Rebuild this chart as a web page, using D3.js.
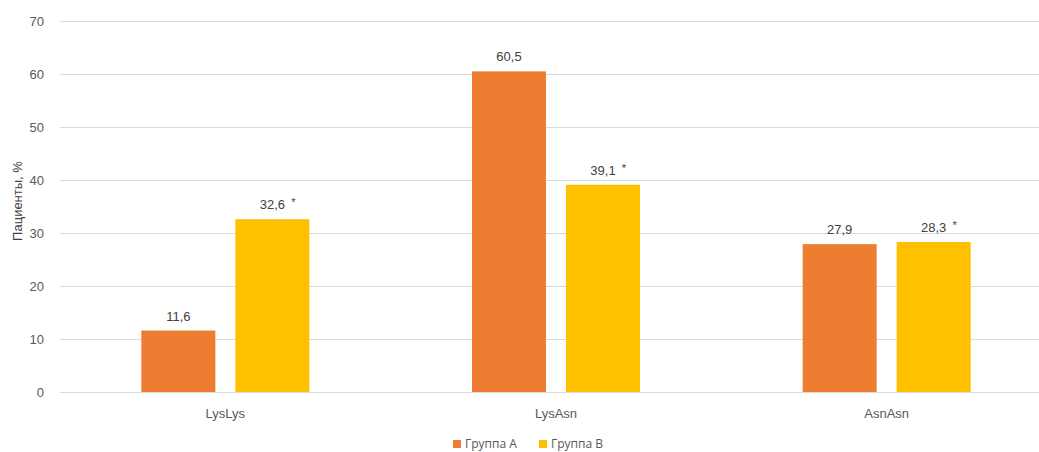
<!DOCTYPE html>
<html>
<head>
<meta charset="utf-8">
<script src="https://cdn.jsdelivr.net/npm/d3@7"></script>
<style>
  html, body { margin: 0; padding: 0; background: #fff; }
  svg { display: block; font-family: "Liberation Sans", Arial, sans-serif; }
</style>
</head>
<body>
<svg id="chart" width="1039" height="452"></svg>
<script>
// Genotype categories and group shares (% of patients)
const categories = ["LysLys", "LysAsn", "AsnAsn"];
const seriesNames = ["Группа А", "Группа В"];
const groupA = [11.6, 60.5, 27.9];
const groupB = [32.6, 39.1, 28.3];
const markB = ["*", "*", "*"];
const yTicks = [0, 10, 20, 30, 40, 50, 60, 70];
const colors = ["#ED7D31", "#FFC000"];

const svg = d3.select("#chart");
const W = 1039, H = 452;
const plot = { left: 60, right: 1052, top: 21, bottom: 392 };

const x = d3.scaleBand().domain(categories).range([plot.left, plot.right]).padding(0);
const y = d3.scaleLinear().domain([0, 70]).range([plot.bottom, plot.top]);
const barW = 74, innerGap = 20;
const pairW = barW * 2 + innerGap;
const sub = d3.scaleBand().domain([0, 1]).range([0, pairW]).paddingInner(innerGap / (barW + innerGap));

// horizontal gridlines
svg.append("g")
  .selectAll("line")
  .data(yTicks)
  .join("line")
  .attr("x1", plot.left).attr("x2", W)
  .attr("y1", d => Math.round(y(d)) + 0.5).attr("y2", d => Math.round(y(d)) + 0.5)
  .attr("stroke", "#D9D9D9").attr("stroke-width", 1);

// y axis labels
const yAxis = d3.axisLeft(y).tickValues(yTicks).tickSize(0).tickPadding(16);
const gy = svg.append("g").attr("transform", `translate(${plot.left},0)`).call(yAxis);
gy.select(".domain").remove();
gy.selectAll("text").attr("font-size", 13).attr("fill", "#595959")
  .attr("font-family", "Liberation Sans, Arial, sans-serif");

// x axis labels
const xAxis = d3.axisBottom(x).tickSize(0).tickPadding(17);
const gx = svg.append("g").attr("transform", `translate(0,${plot.bottom})`).call(xAxis);
gx.select(".domain").remove();
gx.selectAll("text").attr("font-size", 13).attr("fill", "#595959")
  .attr("font-family", "Liberation Sans, Arial, sans-serif");

// bars
const rows = categories.map((c, i) => ({ c, vals: [groupA[i], groupB[i]], mark: markB[i] }));
const groups = svg.append("g").selectAll("g")
  .data(rows)
  .join("g")
  .attr("transform", d => `translate(${x(d.c) + x.bandwidth() / 2 - pairW / 2},0)`);

groups.selectAll("rect")
  .data(d => d.vals.map((v, k) => ({ v, k })))
  .join("rect")
  .attr("x", d => sub(d.k))
  .attr("width", sub.bandwidth())
  .attr("y", d => y(d.v))
  .attr("height", d => y(0) - y(d.v))
  .attr("fill", d => colors[d.k]);

// value labels
groups.selectAll("text.val")
  .data(d => d.vals.map((v, k) => ({ v, k })))
  .join("text")
  .attr("class", "val")
  .attr("x", d => sub(d.k) + sub.bandwidth() / 2)
  .attr("y", d => y(d.v) - 10)
  .attr("text-anchor", "middle")
  .attr("font-size", 13)
  .attr("fill", "#404040")
  .text(d => d.v.toFixed(1).replace(".", ","));

// significance marks next to group B labels
groups.append("text")
  .attr("x", sub(1) + sub.bandwidth() / 2 + 21)
  .attr("y", d => y(d.vals[1]) - 13)
  .attr("text-anchor", "middle")
  .attr("font-size", 11)
  .attr("fill", "#404040")
  .text(d => d.mark);

// y axis title
svg.append("text")
  .attr("transform", `translate(22,201) rotate(-90)`)
  .attr("text-anchor", "middle")
  .attr("font-size", 13)
  .attr("fill", "#404040")
  .text("Пациенты, %");

// legend
const legend = svg.append("g").attr("transform", "translate(453,448)");
const items = legend.selectAll("g").data(seriesNames).join("g")
  .attr("transform", (d, i) => `translate(${i * 86},0)`);
items.append("rect").attr("x", 0).attr("y", -8).attr("width", 8).attr("height", 8)
  .attr("fill", (d, i) => colors[i]);
items.append("text").attr("x", 12).attr("y", 0).attr("font-size", 12)
  .attr("font-family", "Open Sans, sans-serif")
  .attr("fill", "#595959").text(d => d);
</script>
</body>
</html>
